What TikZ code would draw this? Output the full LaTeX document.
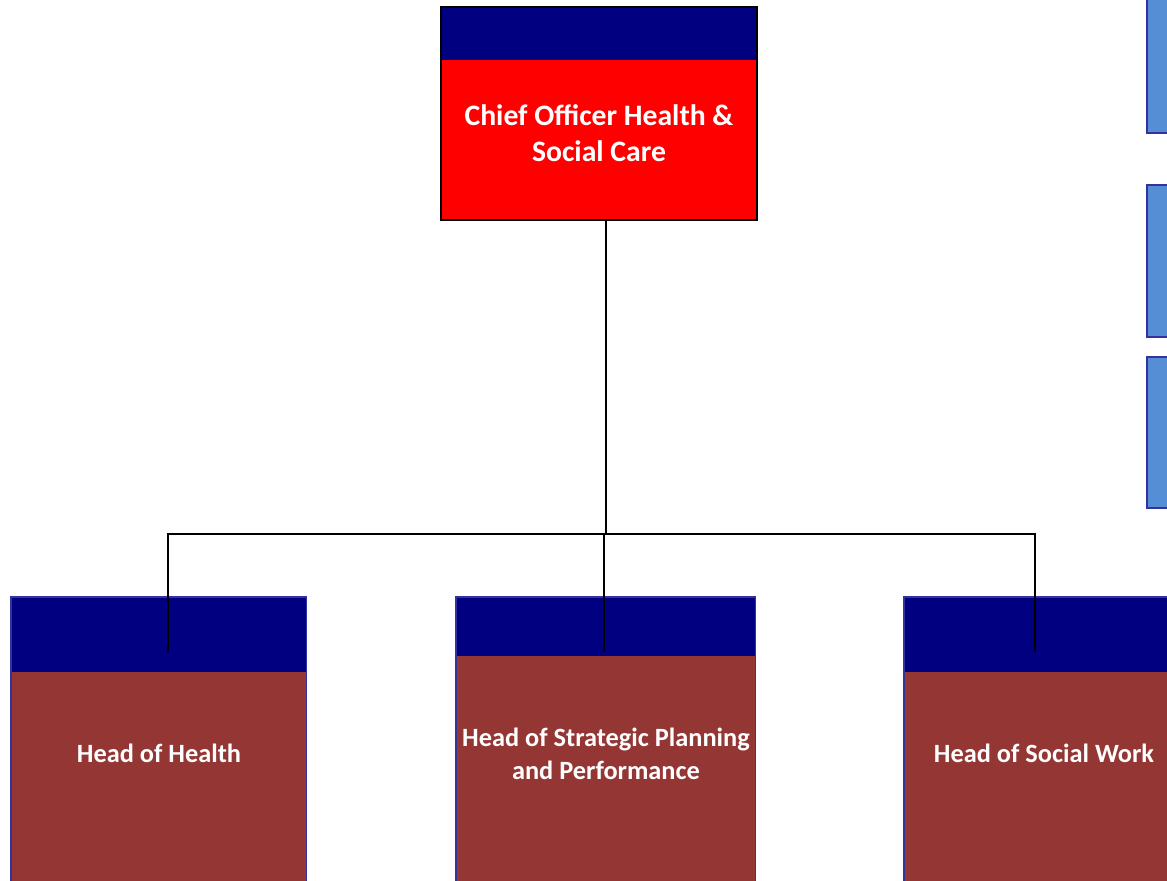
\documentclass[tikz,border=0pt]{standalone}
\usepackage{fontspec}
\setmainfont{Carlito}
\usepackage{tikz}
\usetikzlibrary{positioning}
\definecolor{bandnavy}{HTML}{000080}
\definecolor{chiefred}{HTML}{FF0000}
\definecolor{headbrown}{HTML}{943634}
\definecolor{sideblue}{HTML}{558ED5}
\definecolor{rimblue}{HTML}{3333A0}

\begin{document}
\begin{tikzpicture}[x=0.02cm,y=-0.02cm,
    orgbox/.style={rectangle,inner sep=0pt,outer sep=0pt,anchor=north west,
      path picture={\fill[bandnavy] (path picture bounding box.north west)
        rectangle ([yshift=-#1]path picture bounding box.north east);}},
    headbox/.style={orgbox=#1,fill=headbrown,draw=rimblue,line width=0.6pt,minimum height=6.4cm},
    sidebox/.style={rectangle,inner sep=0pt,outer sep=0pt,anchor=north west,
      fill=sideblue,draw=rimblue,line width=0.9pt,minimum width=1.2cm},
    boxtext/.style={text=white,align=center,
      font=\fontsize{15}{18.8}\selectfont\bfseries},
    link/.style={black,line width=1.1pt}]
  \useasboundingbox (0,0) rectangle (1167,880);
  % top post
  \node[orgbox=1.06cm,fill=chiefred,draw=black,line width=0.8pt,
    minimum width=6.32cm,minimum height=4.26cm] (chief) at (441,7) {};
  \node[boxtext,font=\fontsize{16.9}{20.5}\selectfont\bfseries] (chieftext) at (599,133)
    {Chief Officer Health \&\\Social Care};
  % posts at the right edge
  \node[sidebox,minimum height=2.86cm] (sideone) at (1147,-10) {};
  \node[sidebox,minimum height=3.04cm] (sidetwo) at (1147,185) {};
  \node[sidebox,minimum height=3.02cm] (sidethree) at (1147,357) {};
  % heads
  \node[headbox=1.5cm,minimum width=5.92cm] (health) at (11,597) {};
  \node[boxtext] (healthtext) at (159,753) {Head of Health};
  \node[headbox=1.18cm,minimum width=6cm] (planning) at (456,597) {};
  \node[boxtext] (planningtext) at (606,754) {Head of Strategic Planning\\and Performance};
  \node[headbox=1.5cm,minimum width=5.6cm] (social) at (904,597) {};
  \node[boxtext] (socialtext) at (1044,753) {Head of Social Work};
  % connectors
  \coordinate (hub) at (606,534);
  \coordinate (healthdrop) at (168,652);
  \coordinate (planningdrop) at (604,652);
  \coordinate (socialdrop) at (1035,652);
  \draw[link] (hub |- chief.south) -- (hub);
  \draw[link] (healthdrop) |- (socialdrop |- hub) -- (socialdrop);
  \draw[link] (planningdrop |- hub) -- (planningdrop);
\end{tikzpicture}
\end{document}
